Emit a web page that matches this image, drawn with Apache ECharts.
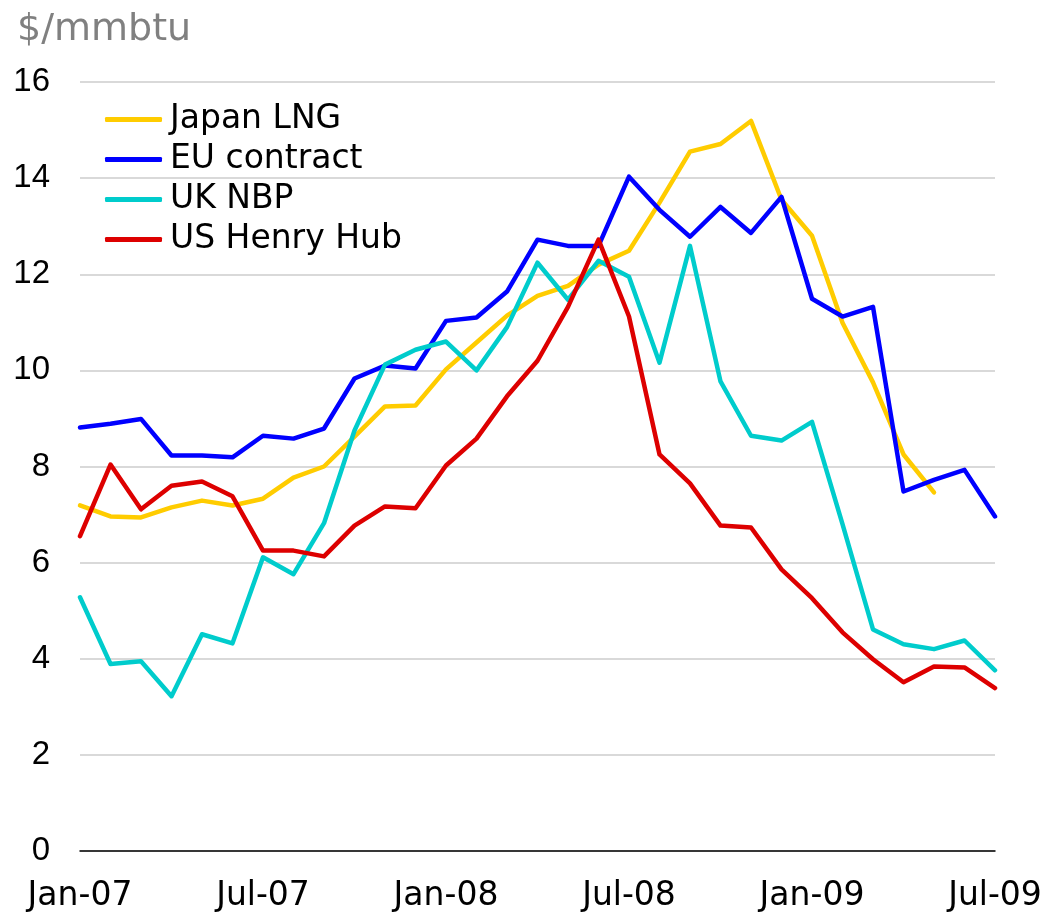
<!DOCTYPE html>
<html>
<head>
<meta charset="utf-8">
<script src="https://cdn.jsdelivr.net/npm/echarts@6/dist/echarts.min.js"></script>
<style>
  html, body { margin: 0; padding: 0; background: #fff; }
  #chart { width: 1049px; height: 913px; }
</style>
</head>
<body>
<div id="chart"></div>
<script>
// monthly prices, $/mmbtu
const months = [
  'Jan-07', 'Feb-07', 'Mar-07', 'Apr-07', 'May-07', 'Jun-07',
  'Jul-07', 'Aug-07', 'Sep-07', 'Oct-07', 'Nov-07', 'Dec-07',
  'Jan-08', 'Feb-08', 'Mar-08', 'Apr-08', 'May-08', 'Jun-08',
  'Jul-08', 'Aug-08', 'Sep-08', 'Oct-08', 'Nov-08', 'Dec-08',
  'Jan-09', 'Feb-09', 'Mar-09', 'Apr-09', 'May-09', 'Jun-09',
  'Jul-09'
];

const japanLng = [
  7.19, 6.96, 6.94, 7.15, 7.29, 7.19, 7.33, 7.77, 8.0, 8.62, 9.25, 9.27,
  10.02, 10.58, 11.14, 11.55, 11.76, 12.2, 12.49, 13.49, 14.55, 14.71, 15.19, 13.55,
  12.8, 10.99, 9.75, 8.25, 7.46, null, null
];

const euContract = [
  8.81, 8.89, 8.99, 8.23, 8.23, 8.19, 8.64, 8.58, 8.79, 9.83, 10.1, 10.04,
  11.03, 11.1, 11.64, 12.72, 12.59, 12.59, 14.03, 13.34, 12.78, 13.4, 12.86, 13.61,
  11.49, 11.12, 11.32, 7.48, 7.72, 7.93, 6.96
];

const ukNbp = [
  5.28, 3.89, 3.95, 3.22, 4.51, 4.32, 6.11, 5.76, 6.82, 8.75, 10.12, 10.43,
  10.6, 10.0, 10.9, 12.24, 11.47, 12.28, 11.95, 10.16, 12.59, 9.77, 8.64, 8.54,
  8.93, 6.8, 4.61, 4.3, 4.2, 4.38, 3.76
];

const usHenryHub = [
  6.55, 8.04, 7.11, 7.6, 7.69, 7.38, 6.25, 6.25, 6.13, 6.77, 7.17, 7.13,
  8.02, 8.58, 9.46, 10.2, 11.32, 12.72, 11.12, 8.25, 7.65, 6.77, 6.73, 5.86,
  5.26, 4.55, 3.99, 3.51, 3.84, 3.82, 3.39
];

const yTicks = { min: 0, max: 16, interval: 2 };

const font = '"Liberation Sans", Arial, sans-serif';
const wideFont = '"DejaVu Sans", sans-serif';

const chart = echarts.init(document.getElementById('chart'));

function lineSeries(name, data, color) {
  return {
    name: name,
    type: 'line',
    data: data,
    showSymbol: false,
    symbol: 'none',
    connectNulls: false,
    lineStyle: { width: 4.5, color: color, join: 'round', cap: 'round' },
    itemStyle: { color: color },
    emphasis: { disabled: true }
  };
}

chart.setOption({
  animation: false,
  backgroundColor: '#fff',
  title: {
    text: '$/mmbtu',
    left: 12,
    top: 6,
    textStyle: { fontFamily: wideFont, fontSize: 38, fontWeight: 'normal', color: '#808080' }
  },
  legend: {
    orient: 'vertical',
    left: 105,
    top: 103,
    padding: 0,
    itemWidth: 57,
    itemHeight: 5,
    itemGap: 7,
    icon: 'roundRect',
    textStyle: { fontFamily: wideFont, fontSize: 33, color: '#000', lineHeight: 32, padding: [0, 0, 0, 3] },
    data: ['Japan LNG', 'EU contract', 'UK NBP', 'US Henry Hub']
  },
  grid: { left: 80, right: 54, top: 82, bottom: 61, containLabel: false },
  xAxis: {
    type: 'category',
    data: months,
    boundaryGap: false,
    axisLine: { show: true, lineStyle: { color: '#000', width: 1.5 } },
    axisTick: { show: false },
    axisLabel: {
      interval: 5,
      margin: 29,
      fontFamily: wideFont,
      fontSize: 33,
      color: '#000'
    },
    splitLine: { show: false }
  },
  yAxis: {
    type: 'value',
    min: yTicks.min,
    max: yTicks.max,
    interval: yTicks.interval,
    axisLine: { show: false },
    axisTick: { show: false },
    axisLabel: { margin: 30, fontFamily: font, fontSize: 33, color: '#000' },
    splitLine: { show: true, lineStyle: { color: '#cccccc', width: 1.5 } }
  },
  series: [
    lineSeries('Japan LNG', japanLng, '#ffcc00'),
    lineSeries('EU contract', euContract, '#0000ff'),
    lineSeries('UK NBP', ukNbp, '#00cccc'),
    lineSeries('US Henry Hub', usHenryHub, '#dd0000')
  ]
});

window.addEventListener('resize', () => chart.resize());
</script>
</body>
</html>
